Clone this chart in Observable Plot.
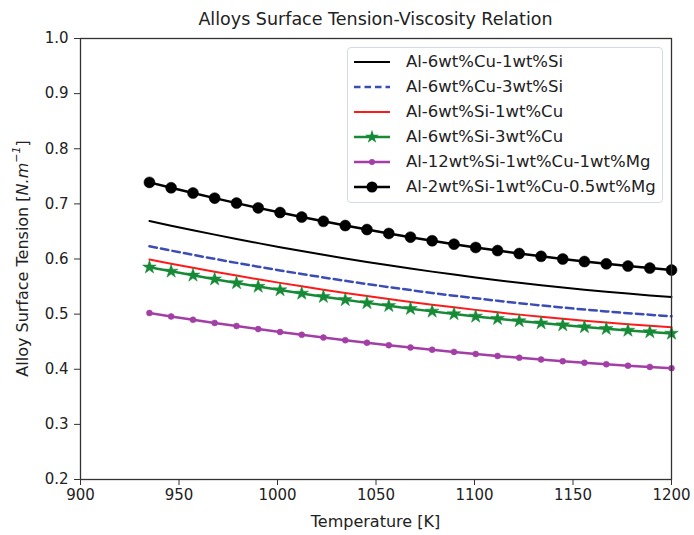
<!DOCTYPE html>
<html>
<head>
<meta charset="utf-8">
<script src="https://cdn.jsdelivr.net/npm/d3@7"></script>
<script src="https://cdn.jsdelivr.net/npm/@observablehq/plot@0.6"></script>
<style>
  html, body { margin: 0; padding: 0; background: #fff; }
  body { width: 694px; height: 535px; position: relative; font-family: "DejaVu Sans", sans-serif; color: #222; overflow: hidden; }
  #title { position: relative; height: 30px; }
  #title span { position: absolute; top: 9px; left: 80px; width: 591px; text-align: center; font-size: 17.5px; white-space: nowrap; }
  #legend { position: absolute; left: 347px; top: 47px; width: 314px; height: 153px; border: 1px solid #d3dbe8; border-radius: 4px; background: rgba(255,255,255,0.85); padding-top: 1px; box-sizing: content-box; }
  .row { height: 25px; display: flex; align-items: center; font-size: 16.5px; white-space: nowrap; }
  .row svg { margin-left: 5px; margin-right: 15px; flex: none; }
</style>
</head>
<body>
<div id="title"><span>Alloys Surface Tension-Viscosity Relation</span></div>
<div id="chart"></div>
<div id="legend"></div>
<script>
// ---- data ----
const temperature = [935, 946, 957.1, 968.1, 979.2, 990.2, 1001.3, 1012.3, 1023.3, 1034.4, 1045.4, 1056.5, 1067.5, 1078.5, 1089.6, 1100.6, 1111.7, 1122.7, 1133.8, 1144.8, 1155.8, 1166.9, 1177.9, 1189, 1200];
const seriesNames = ["Al-6wt%Cu-1wt%Si", "Al-6wt%Cu-3wt%Si", "Al-6wt%Si-1wt%Cu", "Al-6wt%Si-3wt%Cu", "Al-12wt%Si-1wt%Cu-1wt%Mg", "Al-2wt%Si-1wt%Cu-0.5wt%Mg"];
const cu6si1 = [0.669, 0.6605, 0.6522, 0.6442, 0.6364, 0.6288, 0.6215, 0.6144, 0.6076, 0.6010, 0.5947, 0.5886, 0.5827, 0.5771, 0.5717, 0.5665, 0.5616, 0.5569, 0.5525, 0.5483, 0.5444, 0.5407, 0.5372, 0.5340, 0.531];
const cu6si3 = [0.623, 0.6152, 0.6075, 0.6002, 0.5930, 0.5860, 0.5793, 0.5728, 0.5665, 0.5604, 0.5546, 0.5490, 0.5436, 0.5384, 0.5334, 0.5287, 0.5242, 0.5199, 0.5158, 0.5120, 0.5083, 0.5049, 0.5017, 0.4988, 0.496];
const si6cu1 = [0.599, 0.5914, 0.5840, 0.5769, 0.5699, 0.5632, 0.5567, 0.5504, 0.5443, 0.5384, 0.5327, 0.5273, 0.5221, 0.5171, 0.5123, 0.5077, 0.5033, 0.4991, 0.4952, 0.4915, 0.4879, 0.4846, 0.4816, 0.4787, 0.476];
const si6cu3 = [0.585, 0.5776, 0.5704, 0.5634, 0.5566, 0.5501, 0.5437, 0.5376, 0.5316, 0.5259, 0.5204, 0.5151, 0.5099, 0.5050, 0.5004, 0.4959, 0.4916, 0.4876, 0.4837, 0.4801, 0.4766, 0.4734, 0.4704, 0.4676, 0.465];
const si12cu1mg1 = [0.502, 0.4958, 0.4898, 0.4840, 0.4784, 0.4729, 0.4676, 0.4625, 0.4575, 0.4527, 0.4481, 0.4437, 0.4395, 0.4354, 0.4315, 0.4277, 0.4242, 0.4208, 0.4176, 0.4146, 0.4117, 0.4090, 0.4065, 0.4042, 0.402];
const si2cu1mg05 = [0.739, 0.7292, 0.7197, 0.7104, 0.7014, 0.6927, 0.6843, 0.6761, 0.6683, 0.6607, 0.6534, 0.6463, 0.6396, 0.6331, 0.6269, 0.6209, 0.6153, 0.6099, 0.6048, 0.6000, 0.5954, 0.5912, 0.5872, 0.5835, 0.580];
const xTicks = [900, 950, 1000, 1050, 1100, 1150, 1200];
const yTicks = [0.2, 0.3, 0.4, 0.5, 0.6, 0.7, 0.8, 0.9, 1.0];

// ---- styles ----
const styles = [
  {stroke: "#000000", width: 2, dash: null, marker: null},
  {stroke: "#3b4db5", width: 2.5, dash: "7.5,4.2", marker: null},
  {stroke: "#ff1a1a", width: 2, dash: null, marker: null},
  {stroke: "#168a36", width: 2.5, dash: null, marker: {symbol: "star", r: 4.3}},
  {stroke: "#a23ea6", width: 2.5, dash: null, marker: {symbol: "circle", r: 3}},
  {stroke: "#000000", width: 2.5, dash: null, marker: {symbol: "circle", r: 5.5}}
];
const allSeries = [cu6si1, cu6si3, si6cu1, si6cu3, si12cu1mg1, si2cu1mg05];
const tables = allSeries.map((vals, k) => temperature.map((t, i) => ({T: t, v: vals[i], name: seriesNames[k]})));

const marks = [];
tables.forEach((tab, k) => {
  const s = styles[k];
  marks.push(Plot.line(tab, {x: "T", y: "v", stroke: s.stroke, strokeWidth: s.width, strokeDasharray: s.dash || undefined, curve: "linear"}));
  if (s.marker) marks.push(Plot.dot(tab, {x: "T", y: "v", symbol: s.marker.symbol, r: s.marker.r, fill: s.stroke, stroke: s.stroke, strokeWidth: 0.5}));
});

const W = 694, H = 505;
const plot = Plot.plot({
  width: W, height: H,
  marginLeft: 80, marginRight: 23, marginTop: 8, marginBottom: 56,
  style: {fontFamily: "DejaVu Sans, sans-serif", fontSize: "15px", color: "#222", background: "white", overflow: "visible"},
  x: {domain: [900, 1200]},
  y: {domain: [0.2, 1.0]},
  marks: [
    Plot.axisX({ticks: xTicks, tickFormat: d3.format("d"), tickSize: 6, tickPadding: 4, label: null, stroke: "#333"}),
    Plot.axisY({ticks: yTicks, tickFormat: d3.format(".1f"), tickSize: 6, tickPadding: 6, label: null, stroke: "#333"}),
    ...marks,
    Plot.frame({stroke: "#333", strokeWidth: 1.3})
  ]
});
document.getElementById("chart").appendChild(plot);

const svg = d3.select(plot);
// x axis label
svg.append("text")
  .attr("x", 80 + 591 / 2).attr("y", 491)
  .attr("text-anchor", "middle").attr("dominant-baseline", "central")
  .attr("font-size", 16).attr("fill", "#222")
  .text("Temperature [K]");
// y axis label with italic units and superscript
const yl = svg.append("text")
  .attr("transform", `translate(22, ${8 + 441 / 2}) rotate(-90)`)
  .attr("text-anchor", "middle").attr("dominant-baseline", "central")
  .attr("font-size", 16).attr("fill", "#222");
yl.append("tspan").text("Alloy Surface Tension [");
yl.append("tspan").attr("font-style", "italic").text("N.m");
yl.append("tspan").attr("font-style", "italic").attr("font-size", 11).attr("dy", -6).text("\u22121");
yl.append("tspan").attr("dy", 6).text("]");

// legend
const legend = d3.select("#legend");
seriesNames.forEach((name, k) => {
  const s = styles[k];
  const row = legend.append("div").attr("class", "row");
  const sv = row.append("svg").attr("width", 38).attr("height", 16);
  sv.append("line").attr("x1", 1).attr("x2", 37).attr("y1", 8).attr("y2", 8)
    .attr("stroke", s.stroke).attr("stroke-width", s.width)
    .attr("stroke-dasharray", s.dash ? "6.5,4" : null);
  if (s.marker) {
    const sym = s.marker.symbol === "star" ? d3.symbolStar : d3.symbolCircle;
    const area = Math.PI * s.marker.r * s.marker.r;
    sv.append("path").attr("transform", "translate(19,8)")
      .attr("d", d3.symbol(sym, area)()).attr("fill", s.stroke);
  }
  row.append("span").text(name);
});
</script>
</body>
</html>
